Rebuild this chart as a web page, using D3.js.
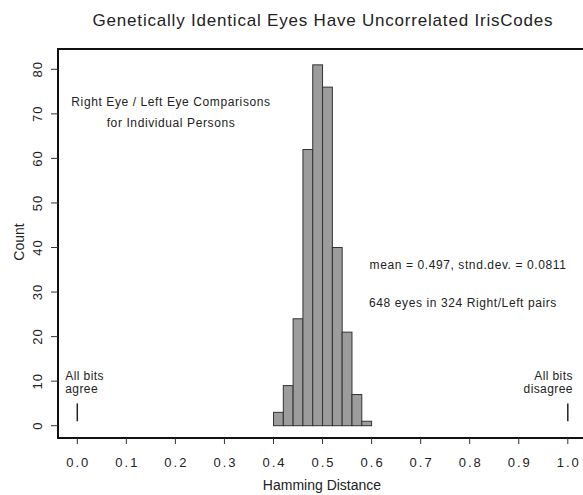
<!DOCTYPE html>
<html>
<head>
<meta charset="utf-8">
<script src="https://cdn.jsdelivr.net/npm/d3@7"></script>
<style>
  body { margin: 0; background: #fff; }
  text { font-family: "Liberation Sans", Arial, sans-serif; fill: #222; }
</style>
</head>
<body>
<div id="chart"></div>
<script>
// histogram bins (left edges) and counts
var binLeft = [0.40, 0.42, 0.44, 0.46, 0.48, 0.50, 0.52, 0.54, 0.56, 0.58]
var counts = [3, 9, 24, 62, 81, 76, 40, 21, 7, 1]
var binWidth = 0.02
var xTicks = [0, 0.1, 0.2, 0.3, 0.4, 0.5, 0.6, 0.7, 0.8, 0.9, 1.0]
var yTicks = [0, 10, 20, 30, 40, 50, 60, 70, 80]

var W = 583, H = 495
var svg = d3.select('#chart').append('svg').attr('width', W).attr('height', H)

var x = d3.scaleLinear().domain([0, 1]).range([77.3, 567.8])
var y = d3.scaleLinear().domain([0, 80]).range([425.7, 69.3])

var box = {left: 58, top: 49, right: 592, bottom: 438}

// title
svg.append('text')
  .attr('x', 323).attr('y', 26)
  .attr('text-anchor', 'middle')
  .style('font-size', '17px')
  .style('letter-spacing', '0.8px')
  .text('Genetically Identical Eyes Have Uncorrelated IrisCodes')

// bars
svg.selectAll('rect.bar').data(counts).enter().append('rect')
  .attr('class', 'bar')
  .attr('x', (d, i) => x(binLeft[i]))
  .attr('width', (d, i) => x(binLeft[i] + binWidth) - x(binLeft[i]))
  .attr('y', d => y(d))
  .attr('height', d => y(0) - y(d))
  .attr('fill', '#9c9c9c')
  .attr('stroke', '#333')
  .attr('stroke-width', 1)

// frame
svg.append('rect')
  .attr('x', box.left).attr('y', box.top)
  .attr('width', box.right - box.left).attr('height', box.bottom - box.top)
  .attr('fill', 'none').attr('stroke', '#111').attr('stroke-width', 2)

// y axis
var yAxis = svg.append('g')
yAxis.selectAll('line').data(yTicks).enter().append('line')
  .attr('x1', 51).attr('x2', box.left)
  .attr('y1', d => y(d)).attr('y2', d => y(d))
  .attr('stroke', '#333')
yAxis.selectAll('text').data(yTicks).enter().append('text')
  .attr('transform', d => `translate(42,${y(d)}) rotate(-90)`)
  .attr('text-anchor', 'middle')
  .style('font-size', '13px')
  .style('letter-spacing', '1px')
  .text(d => d)

svg.append('text')
  .attr('transform', 'translate(24,242) rotate(-90)')
  .attr('text-anchor', 'middle')
  .style('font-size', '14px')
  .text('Count')

// x axis
var xAxis = svg.append('g')
xAxis.selectAll('line').data(xTicks).enter().append('line')
  .attr('x1', d => x(d)).attr('x2', d => x(d))
  .attr('y1', box.bottom).attr('y2', box.bottom + 6)
  .attr('stroke', '#333')
xAxis.selectAll('text').data(xTicks).enter().append('text')
  .attr('x', d => x(d) + 1).attr('y', 467)
  .attr('text-anchor', 'middle')
  .style('font-size', '13px')
  .style('letter-spacing', '2px')
  .text(d => d3.format('.1f')(d))

svg.append('text')
  .attr('x', 322).attr('y', 490)
  .attr('text-anchor', 'middle')
  .style('font-size', '14px')
  .text('Hamming Distance')

// annotations
var ann = svg.append('g').style('font-size', '12px').style('letter-spacing', '0.6px')
ann.append('text').attr('x', 171).attr('y', 106).attr('text-anchor', 'middle')
  .text('Right Eye / Left Eye Comparisons')
ann.append('text').attr('x', 171).attr('y', 127).attr('text-anchor', 'middle')
  .text('for Individual Persons')
ann.append('text').attr('x', 468).attr('y', 269).attr('text-anchor', 'middle')
  .text('mean = 0.497,  stnd.dev. = 0.0811')
ann.append('text').attr('x', 463).attr('y', 307).attr('text-anchor', 'middle')
  .text('648 eyes in 324 Right/Left pairs')

// endpoint markers
var ends = [{v: 0, lines: ['All bits', 'agree'], anchor: 'start', dx: -12},
            {v: 1, lines: ['All bits', 'disagree'], anchor: 'end', dx: 5}]
ends.forEach(e => {
  svg.append('line')
    .attr('x1', x(e.v)).attr('x2', x(e.v))
    .attr('y1', y(5)).attr('y2', y(1))
    .attr('stroke', '#222').attr('stroke-width', 1.5)
  e.lines.forEach((t, i) => {
    svg.append('text')
      .attr('x', x(e.v) + e.dx).attr('y', 380 + i * 13)
      .attr('text-anchor', e.anchor)
      .style('font-size', '12px')
      .style('letter-spacing', '0.4px')
      .text(t)
  })
})
</script>
</body>
</html>
